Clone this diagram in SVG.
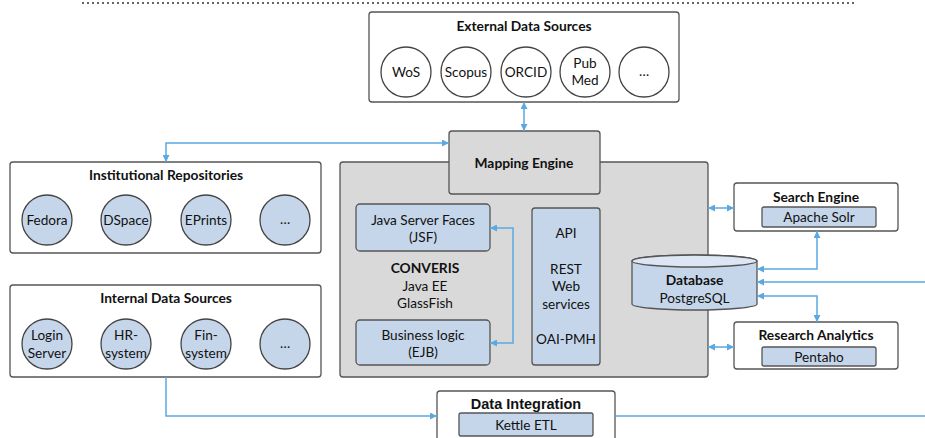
<svg xmlns="http://www.w3.org/2000/svg" width="925" height="438" viewBox="0 0 925 438">
<defs>
<style>
.box{fill:#ffffff;stroke:#555555;stroke-width:1.3}
.gray{fill:#d9d9d9;stroke:#555555;stroke-width:1.3}
.blue{fill:#c6d6ea;stroke:#555555;stroke-width:1.3}
.circw{fill:#ffffff;stroke:#444444;stroke-width:1.3}
.circb{fill:#c6d6ea;stroke:#444444;stroke-width:1.3}
text{font-family:Lato,"Open Sans","Liberation Sans",sans-serif;font-size:13.6px;fill:#111111;text-anchor:middle}
.t{font-weight:bold;font-size:13.8px}
.ar{font-family:"Liberation Sans",Arial,sans-serif;font-weight:bold;font-size:14.5px}
.c{fill:none;stroke:#5aa9e2;stroke-width:1.5}
</style>
<marker id="ah" viewBox="0 0 10 10" refX="10" refY="5" markerWidth="7" markerHeight="7" markerUnits="userSpaceOnUse" orient="auto-start-reverse">
<path d="M0,0 L10,5 L0,10 Z" fill="#5aa9e2"/>
</marker>
</defs>
<rect width="925" height="438" fill="#ffffff"/>
<line x1="82" y1="3" x2="854" y2="3" stroke="#666666" stroke-width="2" stroke-dasharray="2 3"/>

<g id="external">
<rect class="box" x="369" y="12" width="310" height="90" rx="3"/>
<text class="t" x="524" y="30.5">External Data Sources</text>
<circle class="circw" cx="406" cy="72" r="25"/><text x="406" y="76.5">WoS</text>
<circle class="circw" cx="466" cy="72" r="25"/><text x="466" y="76.5">Scopus</text>
<circle class="circw" cx="526" cy="72" r="25"/><text x="526" y="76.5">ORCID</text>
<circle class="circw" cx="585" cy="72" r="25"/><text x="585" y="67.5">Pub</text><text x="585" y="85">Med</text>
<circle class="circw" cx="644" cy="72" r="25"/><text x="644" y="76">…</text>
</g>

<g id="repositories">
<rect class="box" x="10" y="162" width="311" height="91" rx="3"/>
<text class="t" x="166" y="179.5">Institutional Repositories</text>
<circle class="circb" cx="47" cy="220" r="25"/><text x="47" y="225">Fedora</text>
<circle class="circb" cx="126" cy="220" r="25"/><text x="126" y="225">DSpace</text>
<circle class="circb" cx="206" cy="220" r="25"/><text x="206" y="225">EPrints</text>
<circle class="circb" cx="285" cy="220" r="25"/><text x="285" y="224">…</text>
</g>

<g id="internal">
<rect class="box" x="10" y="285" width="311" height="92" rx="3"/>
<text class="t" x="166" y="302.5">Internal Data Sources</text>
<circle class="circb" cx="47" cy="344" r="25"/><text x="47" y="339.5">Login</text><text x="47" y="357.5">Server</text>
<circle class="circb" cx="126" cy="344" r="25"/><text x="126" y="339.5">HR-</text><text x="126" y="357.5">system</text>
<circle class="circb" cx="206" cy="344" r="25"/><text x="206" y="339.5">Fin-</text><text x="206" y="357.5">system</text>
<circle class="circb" cx="285" cy="344" r="25"/><text x="285" y="348">…</text>
</g>

<g id="converis">
<rect class="gray" x="340" y="162" width="368" height="215" rx="3"/>
<text class="t" x="425" y="272.5">CONVERIS</text>
<text x="425" y="291">Java EE</text>
<text x="425" y="308">GlassFish</text>
</g>

<g id="mapping">
<rect class="gray" x="449" y="131" width="151" height="63" rx="3"/>
<text class="t" x="524" y="168">Mapping Engine</text>
</g>

<g id="jsf">
<rect class="blue" x="356" y="204" width="134" height="47" rx="4"/>
<text x="423" y="224.5">Java Server Faces</text>
<text x="423" y="241.5">(JSF)</text>
</g>

<g id="ejb">
<rect class="blue" x="356" y="320" width="134" height="45" rx="4"/>
<text x="423" y="339.5">Business logic</text>
<text x="423" y="356.5">(EJB)</text>
</g>

<g id="api">
<rect class="blue" x="532" y="208" width="68" height="157" rx="3"/>
<text x="566" y="237.5">API</text>
<text x="566" y="273.5">REST</text>
<text x="566" y="290.5">Web</text>
<text x="566" y="309">services</text>
<text x="566" y="343.5">OAI-PMH</text>
</g>

<g id="database">
<path class="blue" d="M632,261 A62.5,6 0 0 1 757,261 V304 A62.5,6 0 0 1 632,304 Z"/>
<ellipse cx="694.5" cy="261" rx="62.5" ry="6" fill="#dde7f3" stroke="#555555" stroke-width="1.3"/>
<text class="t" x="694.5" y="285">Database</text>
<text x="694.5" y="302.5">PostgreSQL</text>
</g>

<g id="search">
<rect class="box" x="734" y="183" width="164" height="48" rx="3"/>
<text class="t" x="816" y="201.5">Search Engine</text>
<rect class="blue" x="762" y="207" width="114" height="20" rx="2"/>
<text x="819" y="222">Apache Solr</text>
</g>

<g id="analytics">
<rect class="box" x="734" y="322" width="164" height="47" rx="3"/>
<text class="t" x="816" y="340">Research Analytics</text>
<rect class="blue" x="762" y="347" width="114" height="19" rx="2"/>
<text x="819" y="361.5">Pentaho</text>
</g>

<g id="integration">
<rect class="box" x="437" y="391" width="178" height="60" rx="3"/>
<text class="ar" x="526" y="408.5">Data Integration</text>
<rect class="blue" x="459" y="413" width="134" height="23" rx="2"/>
<text x="526" y="429.5">Kettle ETL</text>
</g>

<g id="connectors">
<path class="c" d="M524,102 V131" marker-start="url(#ah)" marker-end="url(#ah)"/>
<path class="c" d="M166,162 V143 H449" marker-start="url(#ah)" marker-end="url(#ah)"/>
<path class="c" d="M490,228 H513 V343 H490" marker-start="url(#ah)" marker-end="url(#ah)"/>
<path class="c" d="M708,208 H734" marker-start="url(#ah)" marker-end="url(#ah)"/>
<path class="c" d="M708,347 H734" marker-start="url(#ah)" marker-end="url(#ah)"/>
<path class="c" d="M817,231 V269 H757" marker-start="url(#ah)" marker-end="url(#ah)"/>
<path class="c" d="M925,282 H757" marker-end="url(#ah)"/>
<path class="c" d="M757,296 H817 V322" marker-start="url(#ah)" marker-end="url(#ah)"/>
<path class="c" d="M166,377 V416 H437" marker-end="url(#ah)"/>
<path class="c" d="M615,416 H925"/>
</g>
</svg>
